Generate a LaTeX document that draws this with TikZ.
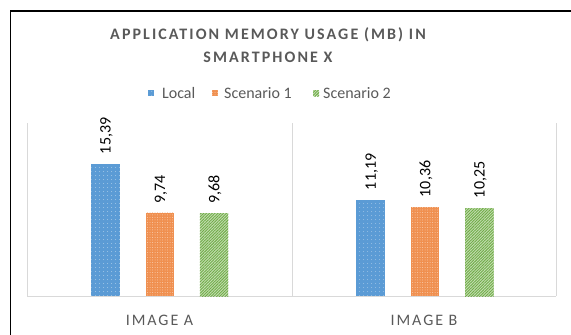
\documentclass[tikz,border=0pt]{standalone}
\usepackage{fontspec}
\setmainfont{Carlito}
\newfontfamily\titlefont[LetterSpace=13]{Carlito}
\newfontfamily\catfont[LetterSpace=12]{Carlito}
\usetikzlibrary{patterns.meta}
\definecolor{cblue}{RGB}{91,155,213}
\definecolor{corange}{RGB}{237,125,49}
\definecolor{cgreen}{RGB}{112,173,71}
\definecolor{ctext}{RGB}{89,89,89}
\definecolor{cgrid}{RGB}{217,217,217}
\tikzset{
  bluebar/.style={fill=cblue, postaction={pattern={Dots[distance=4pt,radius=0.45pt]}, pattern color=white!75!cblue}},
  orangebar/.style={fill=corange!85!white, postaction={pattern={Dots[distance=2.5pt,radius=0.5pt]}, pattern color=white!60!corange}},
  greenbar/.style={fill=cgreen!40!white, postaction={pattern={Lines[angle=45,distance=2pt,line width=0.9pt]}, pattern color=cgreen}},
  val/.style={rotate=90, anchor=west, inner sep=0pt, font=\fontsize{16}{16}\selectfont, text=black},
  cat/.style={inner sep=0pt, font=\catfont\fontsize{16}{16}\selectfont, text=ctext},
  leg/.style={inner sep=0pt, anchor=west, font=\fontsize{16}{16}\selectfont, text=ctext},
  grid/.style={draw=cgrid, line width=1pt}
}
\begin{document}
\begin{tikzpicture}[x=1pt,y=-1pt]
\useasboundingbox (0,0) rectangle (571,335);
% frame
\draw[line width=1.3pt, black] (10.5,337) -- (10.5,11) -- (573,11);
% title
\node[inner sep=0pt, align=center, text=ctext, font=\titlefont\bfseries\fontsize{16}{22.5}\selectfont] (title) at (268,45) {APPLICATION MEMORY USAGE (MB) IN\\SMARTPHONE X};
% legend
\fill[bluebar] (148,90) rectangle (154,96);
\node[leg] (l1) at (162,93) {Local};
\fill[orangebar] (212,90) rectangle (218,96);
\node[leg] (l2) at (224,93) {Scenario 1};
\fill[greenbar] (313,90) rectangle (319,96);
\node[leg] (l3) at (323,93) {Scenario 2};
% grid
\draw[grid] (27,123) -- (27,296);
\draw[grid] (292,123) -- (292,296);
\draw[grid] (556,123) -- (556,296);
\draw[grid] (27,296) -- (556,296);
% bars: scale 8.56 per unit, baseline 296
\def\bw{14.25}
% Image A
\fill[bluebar] (105.5-\bw,296-8.56*15.39) rectangle (105.5+\bw,296);
\node[val] (va1) at (106.5,296-8.56*15.39-10) {15,39};
\fill[orangebar] (160-\bw,296-8.56*9.74) rectangle (160+\bw,296);
\node[val] (va2) at (161,296-8.56*9.74-9) {9,74};
\fill[greenbar] (214-\bw,296-8.56*9.68) rectangle (214+\bw,296);
\node[val] (va3) at (215,296-8.56*9.68-9) {9,68};
% Image B
\fill[bluebar] (370.7-\bw,296-8.56*11.19) rectangle (370.7+\bw,296);
\node[val] (vb1) at (371.7,296-8.56*11.19-10) {11,19};
\fill[orangebar] (425-\bw,296-8.56*10.36) rectangle (425+\bw,296);
\node[val] (vb2) at (426,296-8.56*10.36-10) {10,36};
\fill[greenbar] (479.4-\bw,296-8.56*10.25) rectangle (479.4+\bw,296);
\node[val] (vb3) at (480.4,296-8.56*10.25-10) {10,25};
% categories
\node[cat] (ca) at (159.5,320.5) {IMAGE A};
\node[cat] (cb) at (424,320.5) {IMAGE B};
\end{tikzpicture}
\end{document}
